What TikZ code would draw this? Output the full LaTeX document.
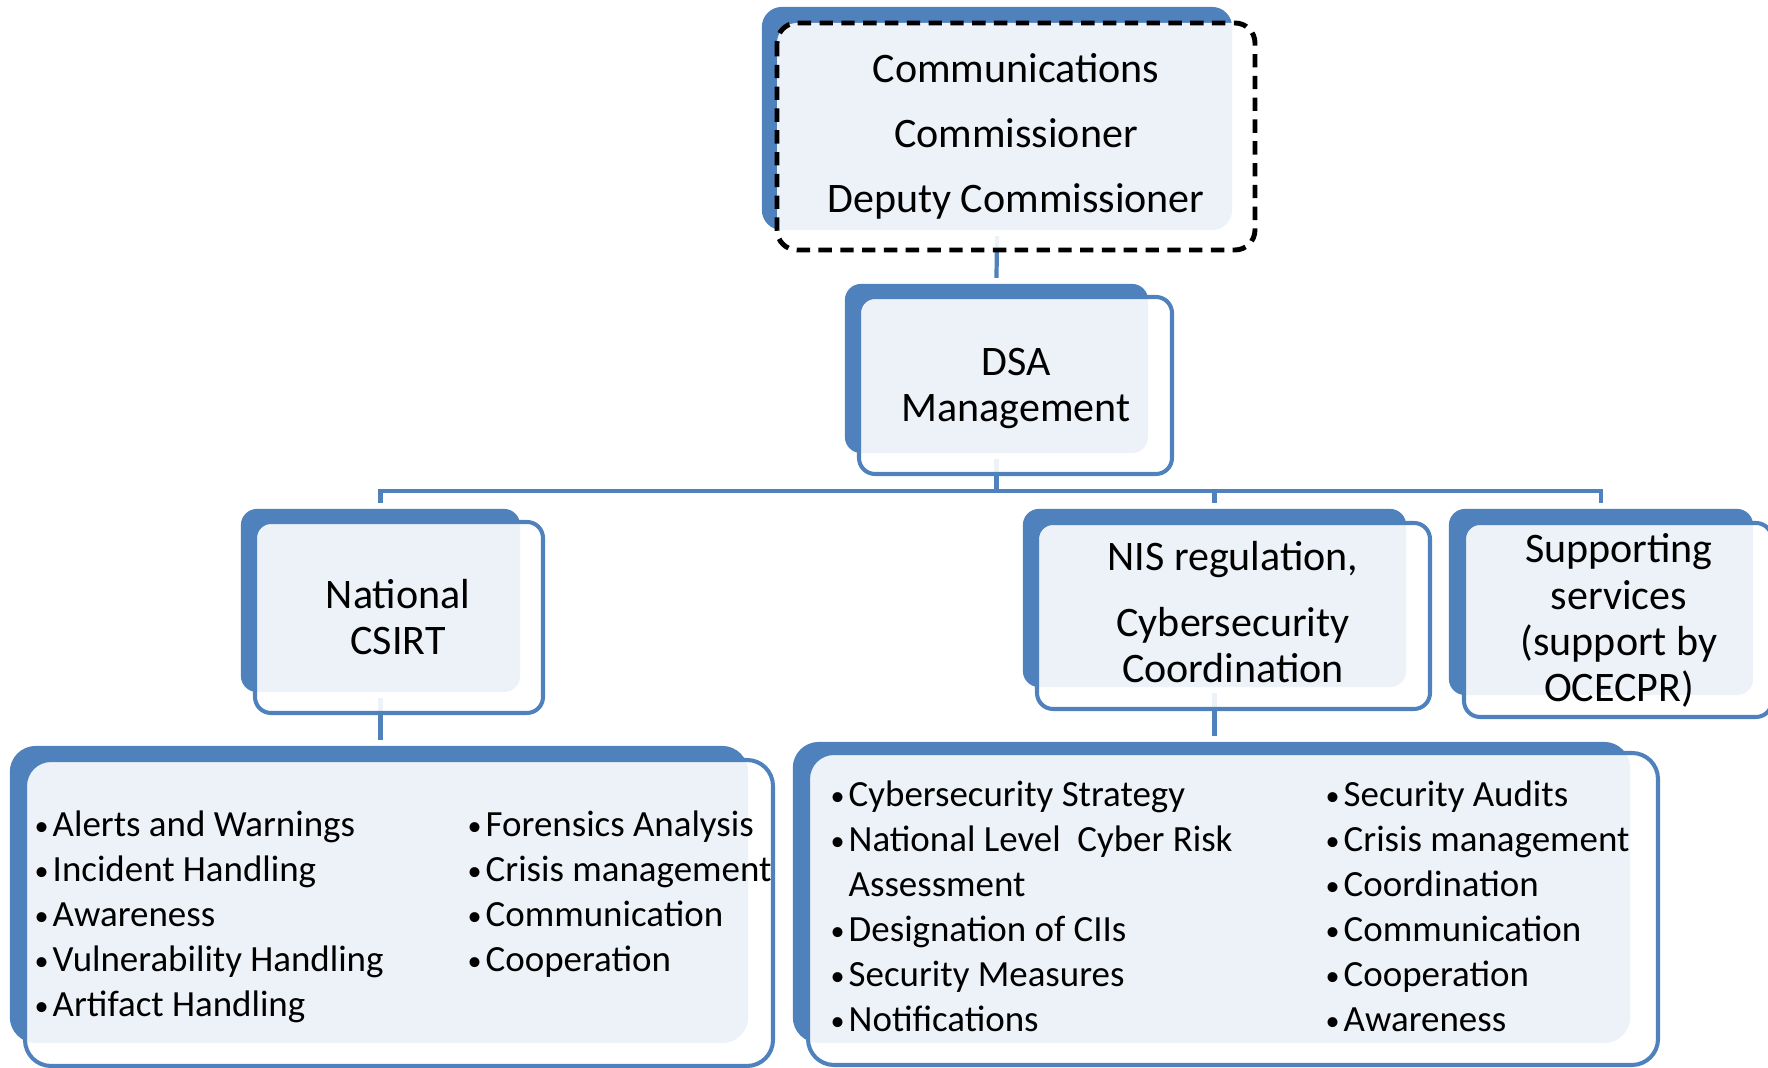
\documentclass[tikz,border=0pt]{standalone}
\usepackage{xcolor}
\usepackage{fontspec}
\setmainfont{Carlito}
\usepackage{tikz}
\usetikzlibrary{calc,positioning}
\definecolor{boxblue}{HTML}{4F81BD}
\newcommand{\itm}[1]{\makebox[0.2cm][l]{\hspace{0.02cm}\raisebox{0.5pt}{\fontsize{8}{8}\selectfont\textbullet}}#1}

\begin{document}
\begin{tikzpicture}[x=0.01cm,y=-0.01cm,
  back/.style={rectangle, fill=boxblue, inner sep=0pt, outer sep=0.06cm, rounded corners=0.16cm},
  front/.style={draw=boxblue, line width=1.15pt, fill=white, fill opacity=0.9, rounded corners=0.16cm},
  link/.style={draw=boxblue, line width=1.2pt},
  title/.style={align=center, inner sep=0pt, anchor=base, font=\fontsize{11.95}{13.2}\selectfont},
  items/.style={align=left, inner sep=0pt, anchor=base west, font=\fontsize{10.5}{12.8}\selectfont}]
  \useasboundingbox (0,0) rectangle (1768,1068);
  \node[back, minimum width=4.70cm, minimum height=2.23cm, rounded corners=0.2cm] (comm) at (997,118.5) {};
  \node[back, minimum width=3.03cm, minimum height=1.69cm] (dsa) at (996.5,368.5) {};
  \node[back, minimum width=2.79cm, minimum height=1.83cm] (csirt) at (380.5,600.5) {};
  \node[back, minimum width=3.83cm, minimum height=1.78cm] (nis) at (1214.5,598) {};
  \node[back, minimum width=3.04cm, minimum height=1.86cm] (supp) at (1601,602) {};
  \node[back, minimum width=7.38cm, minimum height=2.97cm, rounded corners=0.26cm] (csirtlist) at (379,894.5) {};
  \node[back, minimum width=8.37cm, minimum height=3.01cm, rounded corners=0.26cm] (nislist) at (1211.5,892.5) {};
  \coordinate (bus) at (0,491);
  \draw[link] (comm.south) -- (dsa.north);
  \draw[link] (dsa.south) -- (dsa.south |- bus);
  \draw[link] (csirt.north) |- (supp.north |- bus) -- (supp.north);
  \draw[link] (nis.north) -- (nis.north |- bus);
  \draw[link] (csirt.south) -- (csirt.south |- csirtlist.north);
  \draw[link] (nis.south) -- (nis.south |- nislist.north);
  \draw[front, draw=black, line width=1.4pt, dash pattern=on 3.8pt off 2.4pt, rounded corners=0.2cm] (777,23) rectangle (1255,250);
  \draw[front] (859,297) rectangle (1172,474);
  \draw[front] (255,522) rectangle (543,713);
  \draw[front] (1037,523) rectangle (1430,709);
  \draw[front] (1464,523) rectangle (1772,717);
  \draw[front, rounded corners=0.26cm] (25,760) rectangle (773,1066);
  \draw[front, rounded corners=0.26cm] (808,753) rectangle (1658,1065);
  \node[title, font=\fontsize{11.95}{18.5}\selectfont] (commtext) at (1016,213) {Communications\\Commissioner\\Deputy Commissioner};
  \node[title] (dsatext) at (1016,422) {DSA\\Management};
  \node[title] (csirttext) at (398,655) {National\\CSIRT};
  \node[title] (nistext) at (1233,683) {NIS regulation,\\[5.6pt]Cybersecurity\\Coordination};
  \node[title] (supptext) at (1619,702) {Supporting\\services\\(support by\\OCECPR)};
  \node[items] (csirtleft) at (32,1017) {\itm{Alerts and Warnings}\\\itm{Incident Handling}\\\itm{Awareness}\\\itm{Vulnerability Handling}\\\itm{Artifact Handling}};
  \node[items] (csirtright) at (465,972) {\itm{Forensics Analysis}\\\itm{Crisis management}\\\itm{Communication}\\\itm{Cooperation}};
  \node[items] (nisleft) at (828,1032) {\itm{Cybersecurity Strategy}\\\itm{National Level\ \ Cyber Risk}\\\hspace*{0.2cm}Assessment\\\itm{Designation of CIIs}\\\itm{Security Measures}\\\itm{Notifications}};
  \node[items] (nisright) at (1323,1032) {\itm{Security Audits}\\\itm{Crisis management}\\\itm{Coordination}\\\itm{Communication}\\\itm{Cooperation}\\\itm{Awareness}};
\end{tikzpicture}
\end{document}
